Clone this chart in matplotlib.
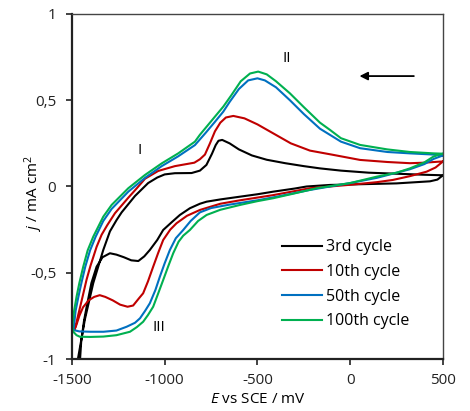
import matplotlib
matplotlib.use('Agg')
import matplotlib.pyplot as plt
from matplotlib.ticker import FuncFormatter

plt.rcParams['font.family'] = ['Open Sans', 'DejaVu Sans']
plt.rcParams['mathtext.fontset'] = 'custom'
plt.rcParams['mathtext.rm'] = 'Open Sans'
plt.rcParams['mathtext.it'] = 'Open Sans:italic'
plt.rcParams['axes.unicode_minus'] = False

# cyclic voltammograms: closed loops (upper branch 500 -> -1500, then lower branch back to 500)
E_3rd = [500, 400, 250, 100, -50, -163, -250, -350, -450, -530, -600, -650, -690, -710, -725,
         -745, -775, -810, -855, -945, -1000, -1040, -1089, -1160, -1232, -1259, -1295, -1331,
         -1385, -1430, -1466, -1490,
         -1462, -1450, -1435, -1421, -1395, -1367, -1335, -1295, -1260, -1220, -1180, -1142,
         -1110, -1080, -1040, -1008, -960, -918, -864, -810, -774, -700, -594, -500, -415,
         -300, -235, -109, 50, 250, 430, 470, 500]
j_3rd = [0.065, 0.068, 0.074, 0.080, 0.092, 0.105, 0.118, 0.135, 0.155, 0.18, 0.215, 0.25, 0.27,
         0.265, 0.24, 0.19, 0.125, 0.092, 0.078, 0.077, 0.07, 0.052, 0.02, -0.055, -0.15, -0.194,
         -0.26, -0.368, -0.56, -0.77, -0.99, -1.15,
         -1.1, -0.9, -0.78, -0.70, -0.56, -0.465, -0.41, -0.387, -0.395, -0.41, -0.428, -0.432,
         -0.405, -0.368, -0.31, -0.252, -0.205, -0.165, -0.126, -0.1, -0.088, -0.075, -0.059,
         -0.045, -0.030, -0.012, 0.0, 0.009, 0.013, 0.018, 0.03, 0.04, 0.065]

E_10th = [500, 480, 400, 322, 200, 53, -100, -217, -320, -415, -500, -570, -630, -670, -700,
          -729, -756, -783, -810, -840, -945, -1035, -1106, -1150, -1196, -1268, -1310, -1340,
          -1367, -1400, -1421, -1445, -1465, -1478, -1486,
          -1475, -1460, -1440, -1410, -1380, -1350, -1320, -1280, -1240, -1200, -1170, -1140,
          -1116, -1090, -1062, -1035, -1008, -970, -936, -880, -810, -700, -594, -415, -217,
          0, 143, 230, 322, 412, 460, 500]
j_10th = [0.145, 0.144, 0.138, 0.135, 0.142, 0.154, 0.185, 0.208, 0.25, 0.308, 0.36, 0.395,
          0.409, 0.40, 0.37, 0.32, 0.25, 0.185, 0.158, 0.138, 0.118, 0.09, 0.045, -0.01, -0.065,
          -0.155, -0.225, -0.28, -0.35, -0.46, -0.54, -0.65, -0.74, -0.80, -0.83,
          -0.80, -0.75, -0.70, -0.66, -0.64, -0.63, -0.64, -0.66, -0.685, -0.697, -0.69, -0.65,
          -0.619, -0.55, -0.465, -0.385, -0.31, -0.25, -0.213, -0.17, -0.136, -0.1, -0.08,
          -0.05, -0.01, 0.01, 0.025, 0.038, 0.06, 0.086, 0.11, 0.145]

E_50th = [500, 450, 322, 200, 53, -50, -163, -250, -325, -400, -460, -500, -550, -600, -650,
          -684, -729, -780, -837, -927, -1016, -1106, -1196, -1286, -1331, -1372, -1402, -1428,
          -1449, -1465, -1480, -1489, -1492,
          -1480, -1460, -1400, -1330, -1260, -1205, -1160, -1133, -1105, -1080, -1050, -1026,
          -1000, -972, -940, -900, -860, -810, -750, -650, -500, -400, -217, 0, 143, 322, 400,
          450, 500]
j_50th = [0.18, 0.185, 0.192, 0.2, 0.222, 0.26, 0.335, 0.42, 0.50, 0.575, 0.615, 0.627, 0.615,
          0.565, 0.49, 0.434, 0.375, 0.31, 0.24, 0.175, 0.118, 0.05, -0.03, -0.13, -0.2, -0.291,
          -0.37, -0.465, -0.56, -0.639, -0.72, -0.81, -0.83,
          -0.835, -0.84, -0.842, -0.842, -0.835, -0.813, -0.79, -0.764, -0.72, -0.677, -0.6,
          -0.523, -0.445, -0.368, -0.3, -0.252, -0.2, -0.15, -0.125, -0.105, -0.08, -0.06,
          -0.02, 0.02, 0.05, 0.1, 0.13, 0.16, 0.18]

E_100th = [500, 450, 322, 200, 53, -50, -109, -163, -250, -325, -400, -450, -496, -540, -590,
           -640, -684, -729, -810, -837, -927, -1016, -1106, -1196, -1286, -1331, -1385, -1415,
           -1439, -1460, -1475, -1488, -1496, -1497,
           -1490, -1475, -1457, -1400, -1331, -1260, -1187, -1150, -1116, -1090, -1062, -1035,
           -1008, -980, -954, -925, -900, -864, -820, -774, -700, -594, -500, -415, -300, -181,
           0, 143, 250, 322, 400, 448, 480, 500]
j_100th = [0.19, 0.192, 0.20, 0.215, 0.241, 0.28, 0.328, 0.37, 0.46, 0.54, 0.61, 0.65, 0.666,
           0.655, 0.61, 0.53, 0.463, 0.405, 0.30, 0.26, 0.192, 0.134, 0.067, -0.01, -0.107,
           -0.175, -0.291, -0.37, -0.465, -0.56, -0.639, -0.72, -0.793, -0.82,
           -0.845, -0.862, -0.871, -0.872, -0.87, -0.862, -0.842, -0.815, -0.784, -0.745, -0.697,
           -0.62, -0.542, -0.46, -0.387, -0.32, -0.285, -0.252, -0.2, -0.165, -0.135, -0.107,
           -0.085, -0.068, -0.04, -0.01, 0.02, 0.057, 0.08, 0.105, 0.14, 0.173, 0.185, 0.19]

labels = ['3rd cycle', '10th cycle', '50th cycle', '100th cycle']
colors = ['#000000', '#c00000', '#0070c0', '#00b050']

fig = plt.figure(figsize=(4.70, 4.11), dpi=100)
ax = fig.add_axes([0.153, 0.1265, 0.7895, 0.8395])

curves = [(E_3rd, j_3rd), (E_10th, j_10th), (E_50th, j_50th), (E_100th, j_100th)]
for (E, j), lab, col in zip(curves, labels, colors):
    ax.plot(E, j, color=col, lw=1.5, label=lab, solid_joinstyle='round')

ax.set_xlim(-1500, 500)
ax.set_ylim(-1, 1)
ax.set_xticks([-1500, -1000, -500, 0, 500])
ax.set_yticks([-1, -0.5, 0, 0.5, 1])
ax.yaxis.set_major_formatter(FuncFormatter(lambda v, p: ('%g' % v).replace('.', ',')))
ax.tick_params(direction='out', length=4.3, width=1.2, labelsize=11, colors='#222222')
ax.tick_params(axis='x', pad=6)
ax.tick_params(axis='y', pad=7)

for s in ['left', 'bottom']:
    ax.spines[s].set_linewidth(1.6)
    ax.spines[s].set_color('#222222')
for s in ['top', 'right']:
    ax.spines[s].set_linewidth(1.0)
    ax.spines[s].set_color('#444444')

ax.set_xlabel(r'$\it{E}$ vs SCE / mV', fontsize=11)
ax.set_ylabel(r'$\it{j}$ / mA cm$^{2}$', fontsize=11)
ax.xaxis.set_label_coords(0.5, -0.095)
ax.yaxis.set_label_coords(-0.073, 0.48)

# peak labels
ax.text(-1133, 0.21, 'I', fontsize=11, ha='center', va='center')
ax.text(-343, 0.74, 'II', fontsize=11, ha='center', va='center')
ax.text(-1029, -0.82, 'III', fontsize=11, ha='center', va='center')

# scan direction arrow
ax.annotate('', xy=(35, 0.64), xytext=(358, 0.64),
            arrowprops=dict(arrowstyle='-|>', color='black', lw=1.3, mutation_scale=12))

ax.legend(loc='upper left', bbox_to_anchor=(0.55, 0.366), frameon=False, fontsize=11.5,
          handlelength=2.5, handletextpad=0.2, labelspacing=0.55, borderaxespad=0)

fig.savefig('out.png', dpi=100)
